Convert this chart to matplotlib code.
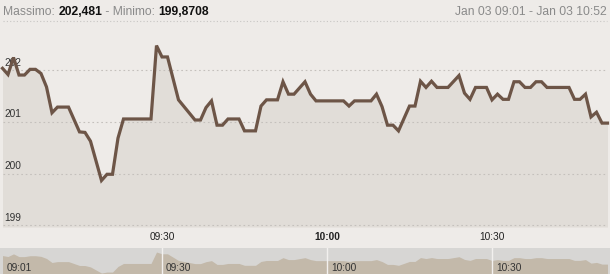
import matplotlib

matplotlib.use("Agg")
import matplotlib.pyplot as plt
from matplotlib.lines import Line2D

plt.rcParams["font.family"] = ["Liberation Sans", "DejaVu Sans"]

# minutes after 09:01 and price at each vertex of the line
minutes = [0, 1, 2, 3, 4, 5, 6, 7, 8, 9, 10, 12, 14, 15, 16, 18, 19, 20, 21, 22,
           27, 28, 29, 30, 32, 35, 36, 37, 38, 39, 40, 41, 43, 44, 46, 47, 48, 50,
           51, 52, 53, 55, 56, 57, 62, 63, 64, 67, 68, 69, 70, 71, 72, 74, 75, 76,
           77, 78, 79, 81, 83, 84, 85, 86, 88, 89, 90, 91, 92, 93, 94, 95, 96, 97,
           98, 99, 103, 104, 105, 106, 107, 108, 109, 110]
prices = [202.04, 201.92, 202.25, 201.91, 201.91, 202.02, 202.02, 201.94, 201.68,
          201.18, 201.29, 201.29, 200.81, 200.80, 200.63, 199.87, 199.99, 199.99,
          200.69, 201.06, 201.06, 202.48, 202.26, 202.26, 201.43, 201.04, 201.04,
          201.28, 201.41, 200.94, 200.94, 201.06, 201.06, 200.83, 200.83, 201.31,
          201.43, 201.43, 201.78, 201.54, 201.54, 201.78, 201.54, 201.41, 201.41,
          201.31, 201.41, 201.41, 201.54, 201.30, 200.94, 200.94, 200.83, 201.31,
          201.31, 201.79, 201.67, 201.79, 201.67, 201.67, 201.90, 201.56, 201.44,
          201.67, 201.67, 201.43, 201.54, 201.44, 201.44, 201.78, 201.78, 201.67,
          201.67, 201.78, 201.78, 201.67, 201.67, 201.44, 201.44, 201.54, 201.10,
          201.19, 200.98, 200.98]

y_ticks = [199, 200, 201, 202]
x_tick_pos = [29, 59, 89]
x_tick_labels = ["09:30", "10:00", "10:30"]
nav_pos = [0, 29, 59, 89]
nav_labels = ["09:01", "09:30", "10:00", "10:30"]

BG = "#eeebe8"
FILL = "#e1ddd8"
LINE = "#6d5547"
GRID = "#c4c0bc"

W, H = 610, 274
fig = plt.figure(figsize=(W / 100, H / 100), dpi=100, facecolor=BG)

px_per_min = 5.5
x0 = 2.5
xlim = (-x0 / px_per_min, (W - x0) / px_per_min)

# main chart
ax = fig.add_axes([0, 47 / H, 1, 199 / H])
ax.set_facecolor(BG)
ax.set_xlim(*xlim)
ax.set_ylim(198.97, 202.82)
ax.fill_between(minutes, prices, 198.97, color=FILL, lw=0, zorder=1)
for v in y_ticks:
    ax.axhline(v, xmin=3 / W, xmax=607 / W, color=GRID, lw=0.8,
               ls=(0, (1.5, 2.5)), zorder=2)
    ax.text(4 / W * (xlim[1] - xlim[0]) + xlim[0], v + 0.05, str(v),
            fontsize=7.3, color="#333333", ha="left", va="bottom", zorder=2.5)
ax.plot(minutes, prices, color=LINE, lw=2.3, solid_joinstyle="miter", zorder=3)
for s in ax.spines.values():
    s.set_visible(False)
ax.set_xticks([])
ax.set_yticks([])

for pos, lab in zip(x_tick_pos, x_tick_labels):
    fig.text((x0 + pos * px_per_min) / W, 1 - 237 / H, lab, fontsize=7.3,
             color="#222222", ha="center", va="center",
             fontweight="bold" if lab == "10:00" else "normal")

# navigator strip
nav = fig.add_axes([0, 0, 1, 26 / H])
nav.set_facecolor("#d7d6d4")
nav.set_xlim(*xlim)
nav.set_ylim(199.75, 202.98)
nav.fill_between(minutes, prices, 199.75, color="#c3b9aa", lw=0)
for pos, lab in zip(nav_pos, nav_labels):
    if pos > 0:
        nav.axvline(pos, color="#f2f0ee", lw=1)
    nav.text(pos + 0.75, 199.9, lab, fontsize=7.3, color="#333333",
             ha="left", va="bottom")
for s in nav.spines.values():
    s.set_visible(False)
nav.set_xticks([])
nav.set_yticks([])

# header
fig.add_artist(Line2D([3 / W, 607 / W], [1 - 21 / H, 1 - 21 / H],
                      color="#c8c6c4", lw=0.8, ls=(0, (1, 2))))
renderer = fig.canvas.get_renderer()
parts = [("Massimo: ", "#8a8a8a", "normal"), ("202,481", "#111111", "bold"),
         (" - Minimo: ", "#8a8a8a", "normal"), ("199,8708", "#111111", "bold")]
xpix = 3
for txt, col, wt in parts:
    t = fig.text(xpix / W, 1 - 15 / H, txt, fontsize=8.7, color=col,
                 fontweight=wt, ha="left", va="baseline")
    xpix += t.get_window_extent(renderer).width
fig.text(607 / W, 1 - 15 / H, "Jan 03 09:01 - Jan 03 10:52", fontsize=8.7,
         color="#8a8a8a", ha="right", va="baseline")

fig.savefig("out.png", dpi=100, facecolor=BG)
